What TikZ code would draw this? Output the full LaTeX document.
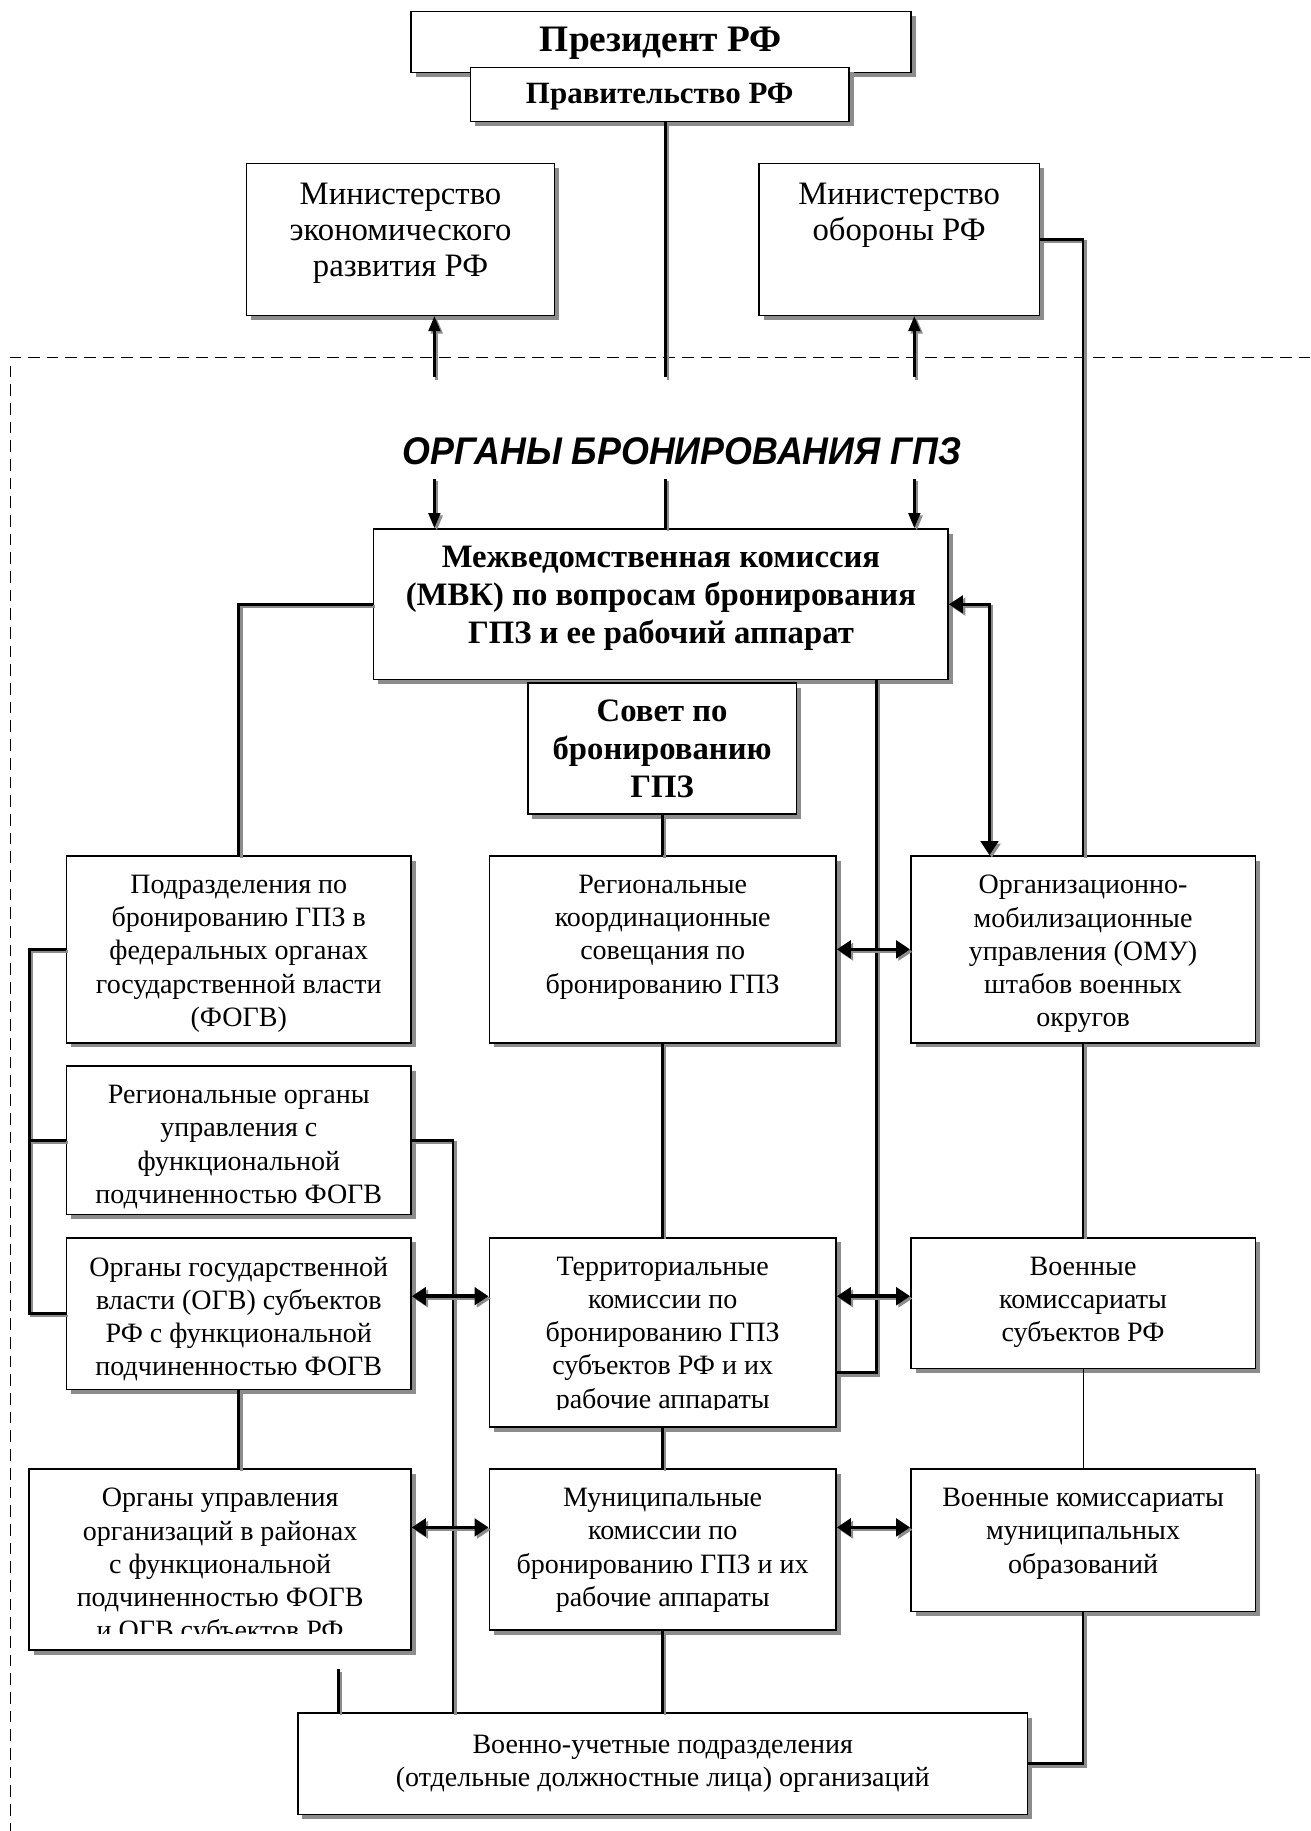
\documentclass[tikz,border=0pt]{standalone}
\usepackage{graphicx}
\usepackage{fontspec}
\setmainfont{Liberation Serif}
\newfontfamily\titlefont{Liberation Sans}
\usetikzlibrary{fit,shadows,arrows.meta,calc}
\definecolor{shd}{gray}{0.55}
\begin{document}
\begin{tikzpicture}[x=1pt,y=-1pt,
  box/.style={draw, line width=1.3pt, fill=white, inner sep=0pt,
    drop shadow={shadow xshift=4pt, shadow yshift=-4pt, fill=shd, opacity=1}},
  txt/.style={align=center, inner sep=0pt, font=\fontsize{24}{28.4}\selectfont},
  mtxt/.style={align=center, inner sep=0pt, font=\fontsize{28}{31}\selectfont},
  btxt/.style={align=center, inner sep=0pt, font=\bfseries\fontsize{28}{32.5}\selectfont},
  topt/.style={anchor=north, yshift=-17pt},
  conn/.style={line width=2.4pt, preaction={draw=shd, line width=2.4pt, transform canvas={shift={(2pt,-2pt)}}}},
  thinc/.style={line width=0.9pt},
  arr/.style={conn, -{Triangle[width=10pt,length=13pt]}},
  dbl/.style={conn, line width=3pt, {Triangle[width=15pt,length=12pt]}-{Triangle[width=15pt,length=12pt]}},
  frame/.style={line width=1pt, dash pattern=on 10pt off 6pt}
]
\useasboundingbox[fill=white] (0,0) rectangle (1122,1568);

% dashed frame
\draw[frame] (1122,306) -- (9,306) -- (9,1568);

% top
\node[box, fit={(352,10)(780,62)}] (pres) {};
\node[btxt, font=\bfseries\fontsize{32}{36}\selectfont] (pres-t) at ([yshift=-1pt]pres.center) {Президент РФ};
\node[box, fit={(403,58)(727,104)}] (gov) {};
\node[btxt, font=\bfseries\fontsize{26.5}{30}\selectfont] (gov-t) at ([yshift=-2pt]gov.center) {Правительство РФ};

\node[box, fit={(211,140)(475,270)}] (minE) {};
\node[mtxt, topt] (minE-t) at (minE.north) {Министерство\\экономического\\развития РФ};
\node[box, fit={(650,140)(890,270)}] (minD) {};
\node[mtxt, topt] (minD-t) at (minD.north) {Министерство\\обороны РФ};

\node[inner sep=0pt, font=\titlefont\bfseries\itshape\fontsize{33}{36}\selectfont] (title) at (584,386) {\scalebox{0.93}[1]{ОРГАНЫ БРОНИРОВАНИЯ ГПЗ}};

\node[box, fit={(320,453)(812,582)}] (mvk) {};
\node[btxt, topt, yshift=2pt] (mvk-t) at (mvk.north) {Межведомственная комиссия\\(МВК) по вопросам бронирования\\ГПЗ и ее рабочий аппарат};
\node[box, fit={(452,585)(682,697)}] (sovet) {};
\node[btxt] (sovet-t) at (sovet.center) {Совет по\\бронированию\\ГПЗ};

\node[box, fit={(57,733)(352,893)}] (podr) {};
\node[txt, topt] (podr-t) at (podr.north) {Подразделения по\\бронированию ГПЗ в\\федеральных органах\\государственной власти\\(ФОГВ)};
\node[box, fit={(419,733)(716,893)}] (regk) {};
\node[txt, topt] (regk-t) at (regk.north) {Региональные\\координационные\\совещания по\\бронированию ГПЗ};
\node[box, fit={(780,733)(1075,893)}] (omu) {};
\node[txt, topt] (omu-t) at (omu.north) {Организационно-\\мобилизационные\\управления (ОМУ)\\штабов военных\\округов};

\node[box, fit={(57,913)(352,1040)}] (rego) {};
\node[txt, topt] (rego-t) at (rego.north) {Региональные органы\\управления с\\функциональной\\подчиненностью ФОГВ};

\node[box, fit={(57,1060)(352,1190)}] (ogv) {};
\node[txt, topt] (ogv-t) at (ogv.north) {Органы государственной\\власти (ОГВ) субъектов\\РФ с функциональной\\подчиненностью ФОГВ};
\node[box, fit={(419,1060)(716,1222)}] (terr) {};
\begin{scope}
  \clip (terr.north west) rectangle ([yshift=16pt]terr.south east);
  \node[txt, topt] (terr-t) at (terr.north) {Территориальные\\комиссии по\\бронированию ГПЗ\\субъектов РФ и их\\рабочие аппараты};
\end{scope}
\node[box, fit={(780,1060)(1075,1172)}] (vks) {};
\node[txt, topt] (vks-t) at (vks.north) {Военные\\комиссариаты\\субъектов РФ};

\node[box, fit={(25,1258)(352,1413)}] (orgu) {};
\begin{scope}
  \clip (orgu.north west) rectangle ([yshift=15pt]orgu.south east);
  \node[txt, topt] (orgu-t) at (orgu.north) {Органы управления\\организаций в районах\\с функциональной\\подчиненностью ФОГВ\\и ОГВ субъектов РФ};
\end{scope}
\node[box, fit={(419,1258)(716,1396)}] (muni) {};
\node[txt, topt] (muni-t) at (muni.north) {Муниципальные\\комиссии по\\бронированию ГПЗ и их\\рабочие аппараты};
\node[box, fit={(780,1258)(1075,1380)}] (vkm) {};
\node[txt, topt] (vkm-t) at (vkm.north) {Военные комиссариаты\\муниципальных\\образований};

\node[box, fit={(255,1467)(880,1554)}] (vu) {};
\node[txt] (vu-t) at (vu.center) {Военно-учетные подразделения\\(отдельные должностные лица) организаций};

% helper coordinates
\coordinate (g1) at (570,323);
\coordinate (g2) at (570,410);
\coordinate (aE) at (372,323);
\coordinate (aD) at (783,323);
\coordinate (dE) at (372,410);
\coordinate (dD) at (783,410);
\coordinate (bx) at (25,0);
\coordinate (rx) at (388,0);
\coordinate (ox) at (290,0);
\coordinate (ya) at (0,1110);
\coordinate (yb) at (0,1308);

% connectors
\draw[conn] (gov.south -| g1) -- (g1);
\draw[arr] (aE) -- (aE |- minE.south);
\draw[arr] (aD) -- (aD |- minD.south);
\draw[arr] (dE) -- (dE |- mvk.north);
\draw[arr] (dD) -- (dD |- mvk.north);
\draw[conn] (g2) -- (g2 |- mvk.north);

\draw[conn] (minD.east) -| (omu.north);
\draw[conn] (mvk.west) -| (podr.north);
\draw[dbl, line width=2.4pt] (mvk.east) -| ([xshift=68pt]omu.north west);
\draw[conn] (sovet.south) -- (sovet.south |- regk.north);
\draw[conn] ([xshift=-62pt]mvk.south east) |- ([yshift=47pt]terr.south east);
\draw[dbl] (regk.east) -- (omu.west);

\draw[conn] (podr.west) -- (podr.west -| bx) |- (ogv.west);
\draw[conn] (rego.west) -- (rego.west -| bx);
\draw[conn] (rego.east) -| (rx |- vu.north);

\draw[conn] (regk.south) -- (regk.south |- terr.north);
\draw[conn] (omu.south) -- (omu.south |- vks.north);
\draw[dbl] (ogv.east |- ya) -- (terr.west |- ya);
\draw[dbl] (terr.east |- ya) -- (vks.west |- ya);

\draw[conn] (ogv.south) -- (ogv.south |- orgu.north);
\draw[conn] (terr.south) -- (terr.south |- muni.north);
\draw[thinc] (vks.south) -- (vks.south |- vkm.north);
\draw[dbl] (orgu.east |- yb) -- (muni.west |- yb);
\draw[dbl] (muni.east |- yb) -- (vkm.west |- yb);

\draw[conn, shorten <=16pt] (orgu.south -| ox) -- (ox |- vu.north);
\draw[conn] (muni.south) -- (muni.south |- vu.north);
\draw[conn] (vkm.south) |- (vu.east);
\end{tikzpicture}
\end{document}
